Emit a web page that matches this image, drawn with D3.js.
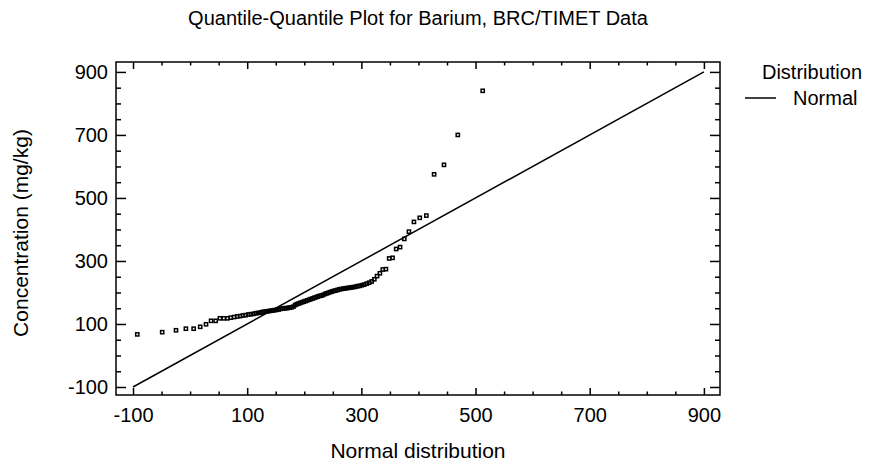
<!DOCTYPE html>
<html>
<head>
<meta charset="utf-8">
<script src="https://cdn.jsdelivr.net/npm/d3@7/dist/d3.min.js"></script>
<style>
  html, body { margin: 0; padding: 0; background: #fff; }
  svg { display: block; }
  text { font-family: "Liberation Sans", Arial, sans-serif; fill: #000; }
</style>
</head>
<body>
<svg id="chart" width="877" height="466"></svg>
<script>
// ---- data ----
const titleText = "Quantile-Quantile Plot for Barium, BRC/TIMET Data";
const xLabel = "Normal distribution";
const yLabel = "Concentration (mg/kg)";
const legendTitle = "Distribution";
const legendItems = ["Normal"];

const xTickLabels = [-100, 100, 300, 500, 700, 900];
const yTickLabels = [-100, 100, 300, 500, 700, 900];

// theoretical normal quantiles (x)
const normalQuantiles = [
  -92.5, -48.9, -24.7, -7.4, 6.2, 17.7, 27.9, 36.7, 44.8, 52.2,
  59.0, 65.4, 71.3, 77.0, 82.5, 87.5, 92.5, 97.3, 101.9, 106.3,
  110.7, 114.9, 118.9, 122.9, 126.8, 130.5, 134.3, 137.9, 141.5, 145.0,
  148.4, 151.8, 155.2, 158.6, 161.8, 165.1, 168.3, 171.5, 174.7, 177.8,
  181.0, 184.0, 187.1, 190.2, 193.3, 196.3, 199.4, 202.4, 205.4, 208.5,
  211.5, 214.6, 217.6, 220.6, 223.7, 226.7, 229.8, 232.9, 236.0, 239.0,
  242.2, 245.3, 248.5, 251.7, 254.9, 258.2, 261.4, 264.8, 268.2, 271.6,
  275.0, 278.5, 282.1, 285.7, 289.5, 293.2, 297.1, 301.1, 305.1, 309.3,
  313.7, 318.1, 322.7, 327.5, 332.5, 337.5, 343.0, 348.7, 354.6, 361.0,
  367.8, 375.2, 383.3, 392.1, 402.3, 413.8, 427.4, 444.7, 468.9, 512.5
];
// sorted barium concentrations (y)
const bariumValues = [
  67, 74, 80, 85, 85, 91, 99, 110, 110, 118,
  118, 118, 120, 122, 124, 125, 127, 128, 130, 131,
  132, 134, 135, 136, 138, 139, 140, 141, 142, 143,
  144, 145, 146, 148, 149, 150, 150, 151, 152, 153,
  155, 160, 163, 165, 167, 169, 171, 173, 175, 177,
  179, 181, 183, 185, 187, 189, 190, 192, 195, 197,
  199, 201, 203, 205, 206, 208, 210, 211, 212, 213,
  214, 215, 216, 217, 218, 220, 221, 223, 225, 228,
  231, 235, 242, 252, 261, 273, 274, 308, 310, 338,
  344, 370, 393, 424, 437, 444, 575, 605, 700, 840
];
// reference line (normal fit, y = x)
const refLineX = [-100, 900];
const refLineY = [-100, 900];

// ---- layout ----
const svg = d3.select("#chart");
const L = 116, R = 720, T = 62, B = 395;

const x = d3.scaleLinear().domain([-129.8, 928.2]).range([L, R]);
const y = d3.scaleLinear().domain([-125.4, 931.5]).range([B, T]);

const minorX = d3.range(-100, 901, 50).filter(v => !xTickLabels.includes(v));
const minorY = d3.range(-100, 901, 50).filter(v => !yTickLabels.includes(v));

const FONT = "Liberation Sans, Arial, sans-serif";

// title
svg.append("text").attr("x", (L + R) / 2).attr("y", 25)
  .attr("text-anchor", "middle").style("font-size", "20px").text(titleText);

// axes with inward ticks
function axisGroup(axisFn, scale, vals, size, transform, labels) {
  const a = axisFn(scale).tickValues(vals).tickSizeInner(size).tickSizeOuter(0)
    .tickFormat(labels ? (d => String(d)) : "");
  const g = svg.append("g").attr("transform", transform).call(a);
  g.select(".domain").remove();
  g.selectAll(".tick line").attr("stroke", "#000").attr("stroke-width", 1.5);
  return g;
}
// bottom
const gb = axisGroup(d3.axisBottom, x, xTickLabels, -7, `translate(0,${B})`, true);
gb.selectAll(".tick text").attr("y", 13).attr("dy", "0.71em")
  .style("font-size", "20px").style("font-family", FONT);
axisGroup(d3.axisBottom, x, minorX, -3.5, `translate(0,${B})`, false);
// top
axisGroup(d3.axisTop, x, xTickLabels, -7, `translate(0,${T})`, false);
axisGroup(d3.axisTop, x, minorX, -3.5, `translate(0,${T})`, false);
// left
const gl = axisGroup(d3.axisLeft, y, yTickLabels, -10, `translate(${L},0)`, true);
gl.selectAll(".tick text").attr("x", -8)
  .style("font-size", "20px").style("font-family", FONT);
axisGroup(d3.axisLeft, y, minorY, -5, `translate(${L},0)`, false);
// right
axisGroup(d3.axisRight, y, yTickLabels, -10, `translate(${R},0)`, false);
axisGroup(d3.axisRight, y, minorY, -5, `translate(${R},0)`, false);

// frame
svg.append("rect").attr("x", L).attr("y", T).attr("width", R - L).attr("height", B - T)
  .attr("fill", "none").attr("stroke", "#000").attr("stroke-width", 1.5);

// reference line
svg.append("line")
  .attr("x1", x(refLineX[0])).attr("y1", y(refLineY[0]))
  .attr("x2", x(refLineX[1])).attr("y2", y(refLineY[1]))
  .attr("stroke", "#000").attr("stroke-width", 1.5);

// points
const pts = normalQuantiles.map((q, i) => ({ q, v: bariumValues[i] }));
svg.append("g").selectAll("rect").data(pts).join("rect")
  .attr("x", d => x(d.q) - 1.6).attr("y", d => y(d.v) - 1.6)
  .attr("width", 3.2).attr("height", 3.2)
  .attr("fill", "none").attr("stroke", "#000").attr("stroke-width", 1.5);

// axis labels
svg.append("text").attr("x", (L + R) / 2).attr("y", 458)
  .attr("text-anchor", "middle").style("font-size", "21px").text(xLabel);
svg.append("text").attr("transform", `translate(28,233) rotate(-90)`)
  .attr("text-anchor", "middle").style("font-size", "21px").text(yLabel);

// legend
svg.append("text").attr("x", 812).attr("y", 79).attr("text-anchor", "middle")
  .style("font-size", "20px").text(legendTitle);
legendItems.forEach((name, i) => {
  const ly = 98 + i * 24;
  svg.append("line").attr("x1", 745).attr("x2", 776).attr("y1", ly).attr("y2", ly)
    .attr("stroke", "#000").attr("stroke-width", 1.5);
  svg.append("text").attr("x", 793).attr("y", ly + 7).style("font-size", "20px").text(name);
});
</script>
</body>
</html>
